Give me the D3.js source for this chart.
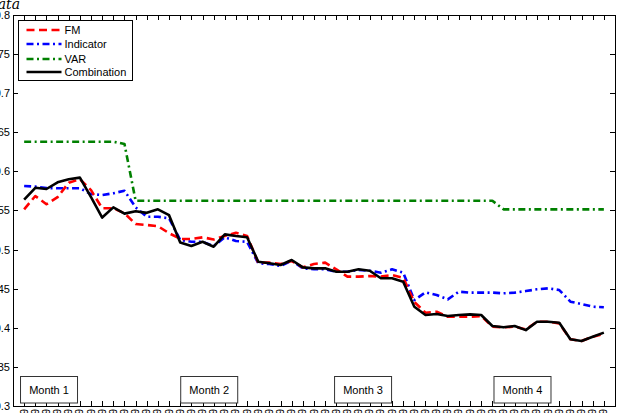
<!DOCTYPE html>
<html>
<head>
<meta charset="utf-8">
<script src="https://cdn.jsdelivr.net/npm/d3@7"></script>
<style>
  body { margin: 0; background: #fff; }
  svg { display: block; font-family: "Liberation Sans", Arial, sans-serif; }
</style>
</head>
<body>
<svg id="chart" width="622" height="413"></svg>
<script>
// Chart data
const weeks = [
  1, 2, 3, 4, 5, 6, 7, 8, 9, 10, 11, 12, 13, 14, 15, 16, 17, 18,
  19, 20, 21, 22, 23, 24, 25, 26, 27, 28, 29, 30, 31, 32, 33, 34, 35, 36,
  37, 38, 39, 40, 41, 42, 43, 44, 45, 46, 47, 48, 49, 50, 51, 52, 53,
];

const xTickLabels = [
  "05", "06", "07", "08", "09", "12", "13", "14", "15", "16", "19", "20", "21", "22",
  "02", "03", "04", "05", "06", "09", "10", "11", "12", "13", "16", "17", "18",
  "02", "03", "04", "05", "06", "09", "10", "11", "12", "13", "16", "17", "18",
  "02", "03", "04", "05", "06", "09", "10", "11", "12", "13", "16", "17", "18",
];

const fm = [
  0.5515, 0.5685, 0.558, 0.567, 0.5855, 0.590, 0.576, 0.5528, 0.5528, 0.5464,
  0.5327, 0.5315, 0.530, 0.521, 0.5136, 0.5136, 0.5157, 0.513, 0.5174, 0.5216,
  0.5174, 0.4833, 0.4833, 0.4816, 0.4854, 0.4773, 0.4816, 0.4833, 0.4748, 0.4654,
  0.4654, 0.4662, 0.4654, 0.4675, 0.464, 0.433, 0.4193, 0.4206, 0.4142, 0.4142,
  0.4142, 0.4151, 0.4014, 0.4006, 0.4014, 0.398, 0.4078, 0.4078, 0.4057, 0.3853,
  0.3831, 0.3886, 0.392,
];

const indicator = [
  0.5813, 0.5805, 0.5788, 0.5784, 0.5784, 0.5784, 0.571, 0.5698, 0.572, 0.5753,
  0.554, 0.542, 0.542, 0.540, 0.5123, 0.510, 0.510, 0.5046, 0.5157, 0.511,
  0.510, 0.4825, 0.4816, 0.479, 0.4858, 0.476, 0.4748, 0.4748, 0.4717, 0.4717,
  0.474, 0.473, 0.4705, 0.4748, 0.4705, 0.4355, 0.4454, 0.442, 0.4364, 0.4462,
  0.445, 0.445, 0.445, 0.4441, 0.445, 0.447, 0.4492, 0.4505, 0.4483, 0.4334,
  0.4304, 0.427, 0.4262,
];

const varModel = [
  0.638, 0.638, 0.638, 0.638, 0.638, 0.638, 0.638, 0.638, 0.638, 0.635,
  0.5625, 0.5625, 0.5625, 0.5625, 0.5625, 0.5625, 0.5625, 0.5625, 0.5625, 0.5625,
  0.5625, 0.5625, 0.5625, 0.5625, 0.5625, 0.5625, 0.5625, 0.5625, 0.5625, 0.5625,
  0.5625, 0.5625, 0.5625, 0.5625, 0.5625, 0.5625, 0.5625, 0.5625, 0.5625, 0.5625,
  0.5625, 0.5625, 0.5625, 0.5515, 0.5515, 0.5515, 0.5515, 0.5515, 0.5515, 0.5515,
  0.5515, 0.5515, 0.5515,
];

const combination = [
  0.564, 0.579, 0.5775, 0.586, 0.590, 0.592, 0.567, 0.541, 0.554, 0.546,
  0.549, 0.547, 0.5515, 0.544, 0.509, 0.5046, 0.510, 0.5037, 0.5195, 0.5174,
  0.5157, 0.4845, 0.4825, 0.4803, 0.4867, 0.4773, 0.476, 0.476, 0.4717, 0.4717,
  0.4748, 0.473, 0.4633, 0.4633, 0.459, 0.427, 0.4164, 0.4176, 0.415, 0.4164,
  0.4172, 0.4164, 0.4023, 0.4006, 0.4023, 0.397, 0.4078, 0.4078, 0.4065, 0.3853,
  0.3831, 0.3886, 0.3938,
];

const yTicks = [0.3, 0.35, 0.4, 0.45, 0.5, 0.55, 0.6, 0.65, 0.7, 0.75, 0.8];
const yTickLabels = ["0.3", "0.35", "0.4", "0.45", "0.5", "0.55", "0.6", "0.65", "0.7", "0.75", "0.8"];

const monthLabels = ["Month 1", "Month 2", "Month 3", "Month 4"];
const monthStart = [0.63, 15.0, 28.8, 43.1];

const seriesNames = ["FM", "Indicator", "VAR", "Combination"];

// Layout
const plot = { left: 13, right: 615, top: 15, bottom: 406 };

const styles = {
  FM: { color: "#ff0000", dash: "8,4.5", width: 2.6 },
  Indicator: { color: "#0000ff", dash: "7,3.5,2,3.5", width: 2.6 },
  VAR: { color: "#008000", dash: "7,3.5,2,3.5", width: 2.6 },
  Combination: { color: "#000000", dash: null, width: 2.6 },
};

const svg = d3.select("#chart");

const x = d3.scaleLinear().domain([0, 54]).range([plot.left, plot.right]);
const y = d3.scaleLinear().domain([0.3, 0.8]).range([plot.bottom, plot.top]);

// Tick marks (inside, on all four sides)
const tickLen = 5;
const ticks = svg.append("g").attr("stroke", "#000").attr("stroke-width", 1);

weeks.forEach((w) => {
  const px = Math.round(x(w)) + 0.5;
  ticks.append("line").attr("x1", px).attr("x2", px)
    .attr("y1", plot.bottom).attr("y2", plot.bottom - tickLen);
  ticks.append("line").attr("x1", px).attr("x2", px)
    .attr("y1", plot.top).attr("y2", plot.top + tickLen);
});

yTicks.forEach((v) => {
  const py = Math.round(y(v)) + 0.5;
  ticks.append("line").attr("x1", plot.left).attr("x2", plot.left + tickLen)
    .attr("y1", py).attr("y2", py);
  ticks.append("line").attr("x1", plot.right).attr("x2", plot.right - tickLen)
    .attr("y1", py).attr("y2", py);
});

// Y tick labels (cut off at the left edge, as in the reference)
svg.append("g")
  .selectAll("text")
  .data(yTicks)
  .join("text")
  .attr("x", 10)
  .attr("y", (d) => y(d))
  .attr("dy", "0.36em")
  .attr("text-anchor", "end")
  .style("font-size", "11px")
  .text((d, i) => yTickLabels[i]);

// X tick labels, rotated; mostly below the visible area
svg.append("g")
  .selectAll("text")
  .data(weeks)
  .join("text")
  .attr("transform", (d) => `translate(${x(d) + 3.5},${plot.bottom + 3}) rotate(-90)`)
  .attr("text-anchor", "end")
  .style("font-size", "10px")
  .text((d, i) => xTickLabels[i] + "/2009");

// Y axis label (cut off)
svg.append("text")
  .attr("x", 20)
  .attr("y", 9)
  .attr("text-anchor", "end")
  .style("font-family", "'DejaVu Serif', 'Liberation Serif', serif")
  .style("font-style", "italic")
  .style("font-size", "14px")
  .text("data");

// Lines
const lineGen = d3.line()
  .x((d) => x(d[0]))
  .y((d) => y(d[1]));

const seriesValues = [fm, indicator, varModel, combination];
const lines = svg.append("g").attr("fill", "none");

[2, 1, 0, 3].forEach((k) => {
  const name = seriesNames[k];
  const st = styles[name];
  lines.append("path")
    .datum(weeks.map((w, i) => [w, seriesValues[k][i]]))
    .attr("d", lineGen)
    .attr("stroke", st.color)
    .attr("stroke-width", st.width)
    .attr("stroke-dasharray", st.dash)
    .attr("stroke-linejoin", "round");
});

// Month annotation boxes
const months = svg.append("g")
  .selectAll("g")
  .data(monthLabels)
  .join("g")
  .attr("transform", (d, i) => `translate(${x(monthStart[i])},376.5)`);

months.append("rect")
  .attr("x", 0.5)
  .attr("width", 57)
  .attr("height", 26.5)
  .attr("fill", "#fff")
  .attr("stroke", "#333")
  .attr("stroke-width", 1);

months.append("text")
  .attr("x", 29)
  .attr("y", 17.5)
  .attr("text-anchor", "middle")
  .style("font-size", "11px")
  .text((d) => d);

// Frame
svg.append("rect")
  .attr("x", plot.left + 0.5)
  .attr("y", plot.top + 0.5)
  .attr("width", plot.right - plot.left)
  .attr("height", plot.bottom - plot.top)
  .attr("fill", "none")
  .attr("stroke", "#000")
  .attr("stroke-width", 1);

// Legend
const legend = svg.append("g").attr("transform", "translate(18.5,20.5)");
legend.append("rect")
  .attr("width", 114)
  .attr("height", 60)
  .attr("fill", "#fff")
  .attr("stroke", "#000")
  .attr("stroke-width", 1);

const legendRows = [9.5, 23.5, 38.5, 51.5];
seriesNames.forEach((name, i) => {
  const st = styles[name];
  legend.append("line")
    .attr("x1", 8)
    .attr("x2", 43)
    .attr("y1", legendRows[i])
    .attr("y2", legendRows[i])
    .attr("stroke", st.color)
    .attr("stroke-width", st.width)
    .attr("stroke-dasharray", st.dash);
  legend.append("text")
    .attr("x", 46)
    .attr("y", legendRows[i])
    .attr("dy", "0.36em")
    .style("font-size", "11px")
    .text(name);
});
</script>
</body>
</html>
